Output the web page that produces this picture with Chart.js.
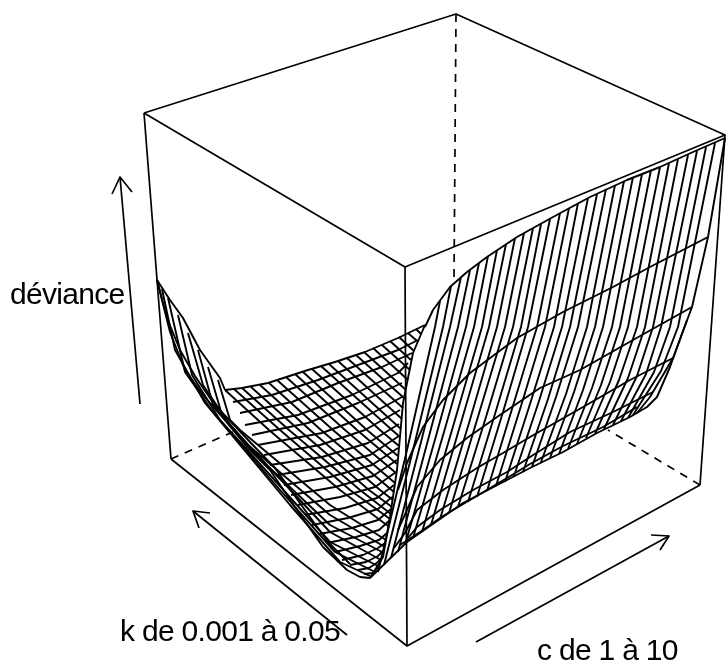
<!DOCTYPE html>
<html><head><meta charset="utf-8">
<style>html,body{margin:0;padding:0;background:#fff}#w{width:726px;height:664px}</style>
<script src="https://cdn.jsdelivr.net/npm/chart.js@4/dist/chart.umd.min.js"></script>
</head><body><div id="w"><canvas id="c" width="726" height="664"></canvas></div>
<script>
const planeWidth = 726, planeHeight = 664;

// perspective box
const boxTop = [144,113, 456,14, 725,135, 405,267, 144,113];
const boxLeft = [144,113, 171,459];
const boxRight = [725,135, 700,485];
const boxFront = [405,267, 407,646];
const boxFloor = [171,459, 407,646, 700,485];
const boxBackVertical = [456,14, 454,279];
const boxBackLeft = [171,459, 233,432];
const boxBackRight = [700,485, 608,430];

// axis arrows
const arrowDeviance = [140,404, 120,177];
const arrowDevianceHead = [112,194, 120,177, 132,192];
const arrowK = [347,635, 193,511];
const arrowKHead = [210,513, 193,511, 199,528];
const arrowC = [476,642, 669,536];
const arrowCHead = [651,535, 669,536, 660,550];

// surface outline
const kMaxEdgeLeft = [157,280, 170,300, 183,318, 200,350, 220,378, 225,390];
const kMaxEdgeBack = [225,390, 242,388, 268,383, 308,370, 335,362, 365,352, 398,338, 425,325];
const cMinEdge = [157,280, 170,332, 185,370, 203,395, 223,418, 233,430, 247,447, 270,470, 297,510, 323,547, 347,570, 360,577, 370,578];
const cMinEdgeInner = [157,280, 167,318, 180,350, 195,376, 214,404, 233,424, 250,442, 275,468, 302,506, 328,542, 350,564];
const wallLeftEdge = [425,325, 413,353, 403,403, 397,470, 390,517, 383,557, 370,578];
const wallLowerEnvelope = [370,578, 407,542, 463,503, 530,468, 563,452, 597,433, 630,417, 647,407, 657,397, 670,367, 687,320];
const wallRightEdge = [725,138, 708,237, 692,307, 673,358, 650,397, 637,413];

// low-k level lines seen on the steep wall
const wallLevel0 = [425,327, 433,310, 450,287, 467,272, 487,257, 517,237, 553,217, 590,197, 627,180, 660,167, 693,152, 725,138];
const wallLevel1 = [708,237, 650,267, 613,287, 563,312, 517,338, 470,373, 443,400, 423,427, 407,463, 398,490];
const wallLevel2 = [692,307, 633,340, 580,370, 540,388, 497,417, 467,438, 440,460, 417,487, 407,510, 398,530];
const wallLevel3 = [673,358, 630,380, 583,407, 530,437, 503,453, 477,468, 443,490, 417,510, 405,533, 394,548];
const wallLevel4 = [653,392, 613,412, 570,432, 530,457, 507,472, 473,490, 440,510, 417,527, 408,538];
const wallLevel5 = [637,407, 603,427, 563,446, 530,464, 507,478, 470,500, 443,516, 420,532, 400,545];

// constant-c lines on the wall: top edge, y=327 crossing, lower crossing, lower envelope
const wallHatchTopX = [440,451,461,470,479,488,497,506,515,524,533,541,550,560,569,578,588,597,606,615,624,633,642,651,660,669,678,688,697,706,715];
const wallHatchTopY = [301,286,277,270,263,256,250,244,238,233,228,224,219,213,208,203,198,194,189,185,181,177,174,170,167,163,159,155,151,147,143];
const wallHatchMidX = [435,443,450,458,466,474,482,489,497,505,513,521,528,537,545,554,562,570,578,587,595,603,612,620,628,637,645,653,661,670,678];
const wallHatchMidY = [327,327,327,327,327,327,327,327,327,327,327,327,327,327,327,327,327,327,327,327,327,327,327,327,327,327,327,327,327,327,327];
const wallHatchLowX = [407,414,421,428,436,444,452,460,469,477,486,495,503,512,521,530,539,548,556,566,574,583,592,601,610,619,628,637,646,654,661];
const wallHatchLowY = [450,446,442,440,436,432,430,426,423,420,417,414,412,409,406,404,401,399,397,394,392,390,388,385,382,380,378,376,374,372,371];
const wallHatchEndX = [378,384,391,398,405,413,422,431,440,449,458,468,477,487,496,505,514,523,532,541,550,559,568,577,586,595,604,613,621,628,633];
const wallHatchEndY = [572,565,558,552,545,538,532,525,519,513,507,502,497,491,486,482,476,472,467,462,458,454,449,444,438,434,429,425,421,418,415];

// constant-c lines in the valley, from the back edge to the wall
const valleyCLines = [
 [225,390, 269,430, 340,490, 388,526],
 [234,389, 280,430, 350,490, 390,519],
 [242,388, 289,430, 360,490, 391,514],
 [251,387, 299,430, 369,490, 392,507],
 [260,385, 310,430, 380,490, 393,500],
 [269,383, 321,430, 394,492],
 [277,380, 333,430, 395,483],
 [286,377, 345,430, 396,473],
 [295,374, 357,430, 397,464],
 [303,372, 367,430, 398,456],
 [312,369, 380,430, 399,446],
 [321,366, 392,430, 400,437],
 [329,364, 401,429],
 [338,361, 402,419],
 [347,358, 403,408],
 [356,355, 404,398],
 [364,352, 406,390],
 [373,348, 408,380],
 [382,345, 410,370],
 [390,341, 411,360],
 [399,337, 414,351],
 [408,333, 417,341],
 [416,329, 421,334]
];

// constant-c lines in the twisted left band, continuing into the valley
const bandCLines = [
 [218,380, 230,420, 240,430, 330,505, 386,540],
 [208,367, 222,415, 248,445, 330,515, 385,547],
 [198,350, 213,405, 256,455, 330,525, 384,553],
 [188,333, 203,385, 230,425, 264,462, 330,532, 381,560],
 [178,315, 192,375, 220,420, 270,475, 330,542, 378,566],
 [168,298, 185,372, 213,412, 280,490, 335,552, 375,572],
 [162,289, 175,350, 205,403, 290,505, 340,562, 372,577]
];

// constant-k lines in the valley, from the left band to the wall
const valleyKLines = [
 [233,402, 272,395, 318,380, 358,365, 398,350, 418,340],
 [240,413, 292,402, 338,383, 382,367, 412,353],
 [245,425, 298,415, 352,395, 398,373, 408,363],
 [252,435, 308,423, 358,403, 402,383],
 [258,445, 322,433, 365,417, 402,397],
 [264,455, 320,445, 365,430, 400,410],
 [270,465, 322,457, 368,443, 399,424],
 [277,475, 325,467, 370,455, 399,436],
 [284,485, 330,477, 372,465, 398,448],
 [291,495, 335,487, 373,476, 397,460],
 [298,505, 340,497, 375,487, 396,472],
 [305,515, 345,508, 377,498, 394,485],
 [312,525, 348,518, 378,509, 392,497],
 [319,534, 352,528, 378,520, 391,509],
 [327,543, 356,537, 379,530, 390,520],
 [335,552, 360,546, 379,540, 387,533],
 [342,560, 363,555, 378,548, 385,543],
 [350,565, 366,562, 378,556, 384,550],
 [358,570, 369,568, 378,562, 381,558],
 [364,574, 373,573, 379,566]
];

// axis labels: text, then the point its left baseline sits on
const labelText = ["déviance", "k de 0.001 à 0.05", "c de 1 à 10"];
const labelX = [10, 120, 537];
const labelY = [304, 641, 660];

function toPoints(flat){
  const out = [];
  for(let n = 0; n < flat.length; n += 2) out.push({x: flat[n], y: flat[n+1]});
  return out;
}
function lineSet(flat, width, dash){
  return {data: toPoints(flat), showLine: true, pointRadius: 0, borderColor: '#000', borderWidth: width,
          borderDash: dash || [], tension: 0, fill: false, borderJoinStyle: 'round', borderCapStyle: 'butt'};
}
const dashes = [8, 7], meshWidth = 1.9, boxWidth = 1.7;
const datasets = [];
[boxBackVertical, boxBackLeft, boxBackRight].forEach(p => datasets.push(lineSet(p, boxWidth, dashes)));
valleyCLines.forEach(p => datasets.push(lineSet(p, meshWidth)));
bandCLines.forEach(p => datasets.push(lineSet(p, meshWidth)));
valleyKLines.forEach(p => datasets.push(lineSet(p, meshWidth)));
wallHatchTopX.forEach((_, m) => datasets.push(lineSet([
  wallHatchTopX[m], wallHatchTopY[m], wallHatchMidX[m], wallHatchMidY[m],
  wallHatchLowX[m], wallHatchLowY[m], wallHatchEndX[m], wallHatchEndY[m]], meshWidth)));
[kMaxEdgeLeft, kMaxEdgeBack, cMinEdge, cMinEdgeInner, wallLeftEdge, wallLowerEnvelope, wallRightEdge,
 wallLevel0, wallLevel1, wallLevel2, wallLevel3, wallLevel4, wallLevel5].forEach(p => datasets.push(lineSet(p, meshWidth)));
[boxTop, boxLeft, boxRight, boxFront, boxFloor,
 arrowDeviance, arrowDevianceHead, arrowK, arrowKHead, arrowC, arrowCHead].forEach(p => datasets.push(lineSet(p, boxWidth)));

const labelsPlugin = {
  id: 'axisLabels',
  afterDatasetsDraw(chart){
    const {ctx, scales} = chart;
    ctx.save();
    ctx.font = '30px "Liberation Sans", Arial, sans-serif';
    ctx.letterSpacing = '-0.7px';
    ctx.fillStyle = '#000';
    ctx.textBaseline = 'alphabetic';
    labelText.forEach((t, n) => ctx.fillText(t, scales.x.getPixelForValue(labelX[n]), scales.y.getPixelForValue(labelY[n])));
    ctx.restore();
  }
};

new Chart(document.getElementById('c'), {
  type: 'scatter',
  data: {datasets},
  plugins: [labelsPlugin],
  options: {
    responsive: false, animation: false, events: [],
    layout: {padding: 0},
    plugins: {legend: {display: false}, tooltip: {enabled: false}, title: {display: false}},
    scales: {
      x: {type: 'linear', min: 0, max: planeWidth, display: false},
      y: {type: 'linear', min: 0, max: planeHeight, reverse: true, display: false}
    }
  }
});
</script></body></html>
